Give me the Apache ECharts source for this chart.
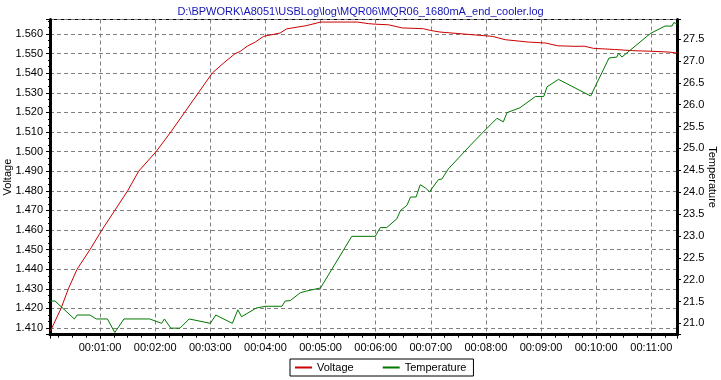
<!DOCTYPE html>
<html>
<head>
<meta charset="utf-8">
<script src="https://cdn.jsdelivr.net/npm/echarts@6/dist/echarts.min.js"></script>
<style>html,body{margin:0;padding:0;background:#fff;}#c{width:721px;height:380px;}</style>
</head>
<body>
<div id="c"></div>
<script>
const titleText = 'D:\\BPWORK\\A8051\\USBLog\\log\\MQR06\\MQR06_1680mA_end_cooler.log';
const voltageTime = [6, 17.5, 25.5, 35, 49, 62, 76, 90, 102, 121, 137, 152, 167, 182, 194, 207, 212.5, 220, 229, 238, 256, 263, 285, 300, 340, 352, 360, 374, 389, 412, 420, 430, 466, 487, 501, 526, 545, 547, 558, 578, 587, 597, 620, 640, 660, 679, 688];
const voltageValues = [1.4085, 1.420, 1.430, 1.440, 1.450, 1.460, 1.470, 1.480, 1.490, 1.500, 1.510, 1.520, 1.530, 1.540, 1.545, 1.550, 1.5511, 1.5537, 1.5559, 1.5588, 1.5605, 1.5626, 1.5643, 1.5661, 1.5661, 1.5653, 1.5650, 1.5647, 1.5631, 1.5627, 1.5618, 1.5610, 1.5596, 1.5588, 1.5571, 1.5559, 1.5554, 1.5549, 1.5540, 1.5537, 1.5538, 1.5527, 1.5521, 1.5515, 1.5512, 1.5508, 1.5503];
const tempTime = [6, 11, 32, 35, 49, 56, 68, 76, 86, 114, 127, 130, 137, 147, 157, 180, 186, 204, 210, 214, 230, 240, 258, 261.5, 267, 278, 285, 300, 334, 359.5, 365, 372, 383, 387, 394, 398, 404, 408.5, 414, 418.6, 428.4, 432, 439, 463, 474, 492, 499, 503, 517, 534, 543, 546.5, 559, 594, 614, 622.5, 624.5, 628, 659, 675, 682.6, 684.5, 688];
const tempValues = [21.51, 21.51, 21.10, 21.19, 21.19, 21.10, 21.10, 20.79, 21.10, 21.10, 21.00, 21.10, 20.89, 20.89, 21.10, 21.00, 21.19, 21.00, 21.31, 21.15, 21.35, 21.39, 21.39, 21.51, 21.52, 21.70, 21.74, 21.81, 22.99, 22.99, 23.19, 23.19, 23.39, 23.58, 23.70, 23.89, 23.89, 24.17, 24.10, 24.01, 24.29, 24.30, 24.53, 25.07, 25.31, 25.69, 25.61, 25.82, 25.93, 26.19, 26.19, 26.41, 26.58, 26.20, 27.07, 27.09, 27.18, 27.09, 27.63, 27.80, 27.80, 27.88, 27.85];
const seriesNames = ['Voltage', 'Temperature'];
const seriesColors = ['#cc0000', '#007800'];

function pad(n){ return (n < 10 ? '0' : '') + n; }
function fmtTime(s){ s = Math.round(s); return pad(Math.floor(s/3600)) + ':' + pad(Math.floor(s%3600/60)) + ':' + pad(s%60); }

const FONT = 'Liberation Sans';
const gridDash = { color: '#808080', type: [4, 3], width: 1 };
const chart = echarts.init(document.getElementById('c'), null, { renderer: 'canvas' });
chart.setOption({
  backgroundColor: '#fff',
  animation: false,
  title: { text: titleText, left: 'center', top: 1, textStyle: { fontFamily: FONT, fontSize: 11, fontWeight: 'normal', color: '#1414b4' } },
  grid: { left: 50, right: 44, top: 19.5, bottom: 45.3, show: true, borderColor: '#000', borderWidth: 1, containLabel: false, outerBoundsMode: 'none' },
  legend: {
    data: seriesNames,
    left: 290, top: 359, padding: [3, 7, 3, 4], itemGap: 28, itemWidth: 17, itemHeight: 10,
    itemStyle: { opacity: 0 },
    borderColor: '#000', borderWidth: 1, backgroundColor: '#fff',
    textStyle: { fontFamily: FONT, fontSize: 11, color: '#000' }
  },
  xAxis: {
    type: 'value', min: 5.5, max: 688, splitNumber: 11, minInterval: 60, maxInterval: 60,
    axisLine: { lineStyle: { color: '#000', width: 3 } },
    axisTick: { length: 4, lineStyle: { color: '#000' } },
    minorTick: { show: true, splitNumber: 4, length: 3, lineStyle: { color: '#000' } },
    axisLabel: { showMinLabel: false, showMaxLabel: false, margin: 8, fontFamily: FONT, fontSize: 11, color: '#000', formatter: fmtTime },
    splitLine: { show: true, lineStyle: gridDash }
  },
  yAxis: [
    {
      type: 'value', position: 'left', min: 1.4066, max: 1.5674, splitNumber: 16, minInterval: 0.01, maxInterval: 0.01,
      name: 'Voltage', nameLocation: 'middle', nameGap: 37, nameRotate: 90, nameMoveOverlap: false,
      nameTextStyle: { fontFamily: FONT, fontSize: 11, color: '#000' },
      axisLine: { show: true, lineStyle: { color: '#000', width: 3 } },
      axisTick: { show: true, length: 4, lineStyle: { color: '#000' } },
      minorTick: { show: true, splitNumber: 3, length: 2, lineStyle: { color: '#000' } },
      axisLabel: { showMinLabel: false, showMaxLabel: false, margin: 7, fontFamily: FONT, fontSize: 11, color: '#000', formatter: v => v.toFixed(3) },
      splitLine: { show: true, lineStyle: gridDash }
    },
    {
      type: 'value', position: 'right', min: 20.74, max: 27.95, splitNumber: 14, minInterval: 0.5, maxInterval: 0.5,
      name: 'Temperature', nameLocation: 'middle', nameGap: 30, nameRotate: -90, nameMoveOverlap: false,
      nameTextStyle: { fontFamily: FONT, fontSize: 11, color: '#000' },
      axisLine: { show: true, lineStyle: { color: '#000', width: 3 } },
      axisTick: { show: true, length: 4, lineStyle: { color: '#000' } },
      minorTick: { show: true, splitNumber: 3, length: 2, lineStyle: { color: '#000' } },
      axisLabel: { showMinLabel: false, showMaxLabel: false, margin: 6, fontFamily: FONT, fontSize: 11, color: '#000', formatter: v => v.toFixed(1) },
      splitLine: { show: false }
    }
  ],
  series: [
    { name: seriesNames[0], type: 'line', yAxisIndex: 0, symbol: 'none', lineStyle: { color: seriesColors[0], width: 1 }, itemStyle: { color: seriesColors[0] },
      data: voltageTime.map((t, i) => [t, voltageValues[i]]) },
    { name: seriesNames[1], type: 'line', yAxisIndex: 1, symbol: 'none', lineStyle: { color: seriesColors[1], width: 1 }, itemStyle: { color: seriesColors[1] },
      data: tempTime.map((t, i) => [t, tempValues[i]]) }
  ]
});
</script>
</body>
</html>
